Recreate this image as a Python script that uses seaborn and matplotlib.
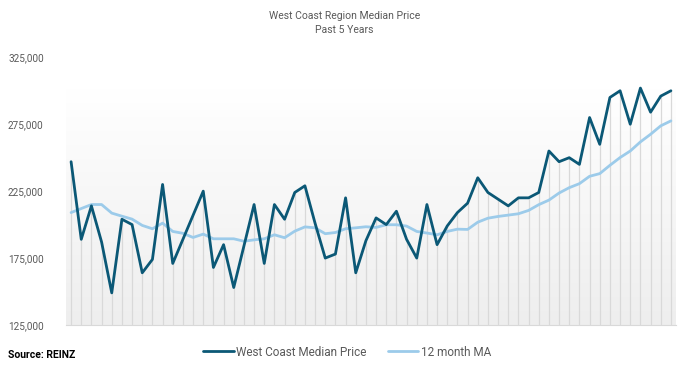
import numpy as np
import pandas as pd
import matplotlib
matplotlib.use('Agg')
from matplotlib import pyplot as plt
from matplotlib.colors import LinearSegmentedColormap
import seaborn as sns

sns.set_style('white')
plt.rcParams['font.family'] = ['Roboto', 'DejaVu Sans']

# monthly median price, West Coast region, past 5 years (60 months)
median_price = [247000, 189000, 214000, 187000, 149000, 204000, 200000, 164000, 174000, 230000,
                171000, 189000, 207000, 225000, 168000, 185000, 153000, 184000, 215000, 171000,
                215000, 204000, 224000, 229000, 201000, 175000, 178000, 220000, 164000, 188000,
                205000, 200000, 210000, 189000, 175000, 215000, 185000, 199000, 209000, 216000,
                235000, 224000, 219000, 214000, 220000, 220000, 224000, 255000, 247000, 250000,
                245000, 280000, 260000, 295000, 300000, 275000, 302000, 284000, 296000, 300000]
moving_avg = [209000, 212000, 215000, 215000, 208600, 206300, 204100, 199400, 196900, 201100,
              194900, 193500, 190400, 192900, 189400, 189400, 189400, 187600, 188600, 189400,
              192400, 190200, 195100, 198300, 197600, 193200, 194100, 196900, 197600, 198400,
              197900, 199900, 199900, 198900, 194900, 193700, 192400, 194900, 196600, 196400,
              201800, 204800, 206100, 207100, 208100, 210600, 214900, 218300, 223600, 227600,
              230600, 236100, 238100, 244300, 250100, 255000, 261800, 267500, 273800, 277500]
y_ticks = [125000, 175000, 225000, 275000, 325000]

months = np.arange(len(median_price))
df = pd.DataFrame({'month': months, 'price': median_price, 'ma': moving_avg})

dark = '#0b5876'
light = '#9ccbea'
grey_text = '#595959'

fig = plt.figure(figsize=(6.89, 3.70), dpi=100)
ax = fig.add_axes([66 / 689, 1 - 325 / 370, 610 / 689, 267.7 / 370])

# plot area background, white at the top fading to light grey
cmap = LinearSegmentedColormap.from_list('bg', ['#ffffff', '#eeeeee'])
ax.imshow(np.linspace(0, 1, 256).reshape(-1, 1), cmap=cmap, aspect='auto',
          extent=(-0.5, len(months) - 0.5, y_ticks[0], 301000), zorder=0)

# drop lines under each month
ax.vlines(df['month'], y_ticks[0], df['price'], color='#d9d9d9', lw=0.9, zorder=1)

sns.lineplot(x='month', y='price', data=df, ax=ax, color=dark, lw=2.0,
             label='West Coast Median Price', zorder=3)
sns.lineplot(x='month', y='ma', data=df, ax=ax, color=light, lw=2.0,
             label='12 month MA', zorder=2)

ax.set_xlim(-0.5, len(months) - 0.5)
ax.set_ylim(y_ticks[0], y_ticks[-1])
ax.set_yticks(y_ticks)
ax.yaxis.set_major_formatter(plt.FuncFormatter(lambda v, p: '{:,}'.format(int(v))))
ax.set_xticks(np.arange(-0.5, len(months), 1))
ax.set_xticklabels([])
ax.tick_params(axis='x', direction='out', length=3, width=0.8, color='#d9d9d9')
ax.tick_params(axis='y', length=0, pad=16, labelsize=7.2, labelcolor=grey_text)
ax.set_xlabel('')
ax.set_ylabel('')
for s in ['top', 'right', 'left']:
    ax.spines[s].set_visible(False)
ax.spines['bottom'].set_color('#d9d9d9')
ax.spines['bottom'].set_linewidth(0.8)

leg = ax.legend(loc='center', bbox_to_anchor=(347 / 689, 1 - 352 / 370),
                bbox_transform=fig.transFigure, ncol=2, frameon=False, fontsize=8.5,
                handlelength=2.6, handletextpad=0.2, columnspacing=1.8)
for t in leg.get_texts():
    t.set_color(grey_text)

fig.text(0.5, 1 - 23 / 370, 'West Coast Region Median Price\nPast 5 Years',
         ha='center', va='center', fontsize=7.5, color=grey_text, linespacing=1.5)
fig.text(8 / 689, 1 - 355 / 370, 'Source: REINZ', fontsize=7.5, weight='bold',
         color='black', va='center')

plt.savefig('out.png', dpi=100)
print('finished')
